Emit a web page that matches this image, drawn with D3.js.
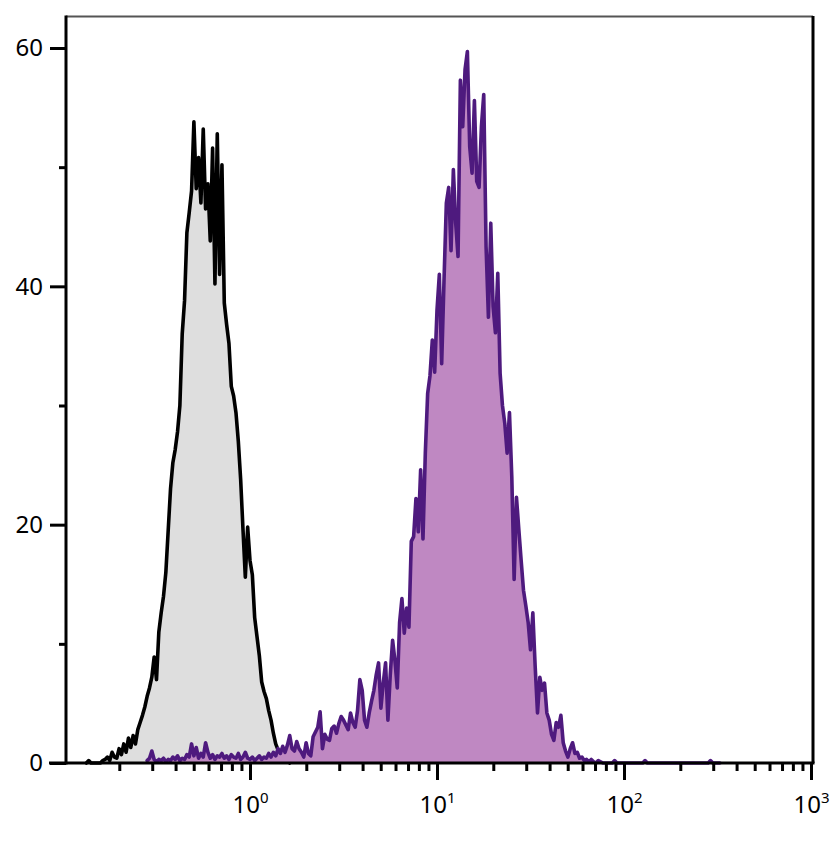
<!DOCTYPE html>
<html><head><meta charset="utf-8">
<script src="https://cdn.jsdelivr.net/npm/d3@7/dist/d3.min.js"></script>
<style>body{margin:0;background:#fff} svg{display:block}</style>
</head><body>
<svg id="c" width="834" height="852"></svg>
<script>
// ---- data ----
const yTicks = [0, 20, 40, 60];
const yMinorTicks = [10, 30, 50];
const xMajorTicks = [1, 10, 100, 1000];
const xTickExponents = ["0", "1", "2", "3"];
const binStep = 0.0125;            // log10 width of one channel
const grayStart = -0.875;          // log10 of first gray channel
const purpleStart = -0.55;         // log10 of first purple channel
const grayCounts = [
  0,0.2,0,0,0,0,0,0.2,0.3,0.5,
  0.2,0.9,0.5,0.4,1.2,0.7,1.6,0.9,2.1,1.3,
  2.3,1.6,2.8,3.4,4.0,4.7,5.6,6.3,7.2,8.9,
  7.0,11.0,12.6,14.0,16.0,19.5,23.0,25.2,26.3,27.8,
  30.0,36.0,38.8,44.5,46.2,48.0,53.8,48.2,50.8,47.0,
  53.2,46.5,48.6,43.8,51.6,40.2,52.8,41.0,50.2,38.6,
  36.8,35.2,31.6,30.8,29.4,27.0,23.8,19.6,15.6,19.8,
  17.0,15.8,12.2,10.6,9.0,6.8,6.0,5.4,4.4,3.6,
  2.5,1.6,1.1,0.8,1.2,0.5,0.3,0
];
const purpleCounts = [
  0.2,0.4,1.0,0.3,0.1,0.3,0.2,0.4,0.1,0.3,
  0.2,0.5,0.3,0.6,0.2,0.4,0.3,0.7,0.5,1.6,
  0.6,1.3,0.4,0.8,0.5,1.7,0.9,0.4,0.7,0.3,
  0.6,0.5,0.8,0.4,0.6,0.3,0.7,0.5,0.4,0.8,
  0.3,0.5,0.9,0.4,0.3,0.5,0.2,0.4,0.6,0.3,
  0.5,0.4,0.8,0.5,0.9,0.6,1.2,0.8,1.4,0.9,
  1.5,2.3,1.2,1.0,1.8,1.2,0.9,0.5,1.7,0.8,
  0.6,2.2,2.6,3.0,4.3,1.2,2.4,2.0,1.9,2.9,
  3.1,2.5,3.3,3.9,3.6,3.2,2.8,4.2,3.4,3.0,
  4.4,7.0,6.1,3.6,3.0,4.2,5.2,6.1,7.4,8.4,
  4.6,6.7,8.4,3.6,7.4,10.3,8.6,6.3,11.8,13.8,
  10.9,13.0,11.4,18.6,19.0,22.2,19.4,24.6,18.8,26.0,
  31.0,32.5,35.5,32.8,38.0,41.0,33.5,40.5,47.0,48.3,
  43.0,49.8,45.3,42.5,57.3,53.4,58.2,59.7,51.7,49.5,
  55.6,48.8,48.3,53.4,56.1,43.3,37.4,45.3,38.3,36.1,
  41.1,32.7,30.0,28.5,26.0,29.4,24.0,15.4,22.3,19.6,
  17.0,14.5,13.2,11.8,9.5,12.6,8.1,4.2,7.2,6.1,
  6.7,4.2,3.6,2.4,1.9,3.4,3.0,4.0,1.7,1.0,
  0.5,1.2,1.7,0.8,0.9,0.4,0.5,0.2,0.3,0.1,
  0.3,0.1,0,0.2,0.1,0,0,0,0,0,
  0.2,0,0,0,0,0,0,0,0,0,
  0,0,0,0.2,0,0,0,0,0,0,
  0,0,0,0,0,0,0,0,0,0,
  0,0,0,0,0,0,0,0,0,0,
  0,0.2,0,0,0,0
];

// ---- chart ----
const svg = d3.select("#c");
const pLeft = 66, pRight = 813, pTop = 16, pBottom = 763;
const x = d3.scaleLog().domain([0.1, 1000]).range([63, 811]);
const y = d3.scaleLinear().domain([0, 60]).range([763, 48]);

const toPts = (arr, start) => arr.map((v, i) => ({ x: Math.pow(10, start + i * binStep), v }));
const gray = toPts(grayCounts, grayStart);
const purple = toPts(purpleCounts, purpleStart);

const area = d3.area().x(d => x(d.x)).y0(y(0)).y1(d => y(d.v));
const line = d3.line().x(d => x(d.x)).y(d => y(d.v));

const g = svg.append("g");
g.append("path").datum(gray).attr("d", area).attr("fill", "#dedede");
g.append("path").datum(gray).attr("d", line).attr("fill", "none")
  .attr("stroke", "#000").attr("stroke-width", 3.6).attr("stroke-linejoin", "round").attr("stroke-linecap", "round");
g.append("path").datum(purple).attr("d", area).attr("fill", "#bf88c2");
g.append("path").datum(purple).attr("d", line).attr("fill", "none")
  .attr("stroke", "#4e1a7e").attr("stroke-width", 3.6).attr("stroke-linejoin", "round").attr("stroke-linecap", "round");

// frame
svg.append("line").attr("x1", pLeft).attr("x2", pRight).attr("y1", pTop + 0.5).attr("y2", pTop + 0.5)
  .attr("stroke", "#555").attr("stroke-width", 2);
svg.append("line").attr("x1", pRight).attr("x2", pRight).attr("y1", pTop).attr("y2", pBottom)
  .attr("stroke", "#000").attr("stroke-width", 3);

// y axis
const yAxis = d3.axisLeft(y).tickValues(yTicks).tickSize(16).tickPadding(7).tickFormat(d3.format("d"));
const ya = svg.append("g").attr("transform", `translate(${pLeft},0)`).call(yAxis);
ya.select(".domain").remove();
ya.selectAll(".tick line").attr("stroke", "#000").attr("stroke-width", 3);
ya.selectAll(".tick text").attr("font-family", "Noto Sans, sans-serif").attr("font-size", 24).attr("fill", "#000");
svg.append("g").attr("transform", `translate(${pLeft},0)`)
  .call(d3.axisLeft(y).tickValues(yMinorTicks).tickSize(7).tickFormat(""))
  .call(s => s.select(".domain").remove())
  .selectAll(".tick line").attr("stroke", "#000").attr("stroke-width", 3);
svg.append("line").attr("x1", pLeft).attr("x2", pLeft).attr("y1", pTop - 0.5).attr("y2", pBottom + 1.5)
  .attr("stroke", "#000").attr("stroke-width", 3);

// x axis
const minor = [];
[0.1, 1, 10, 100].forEach(d => { for (let k = 2; k <= 9; k++) minor.push(d * k); });
svg.append("g").attr("transform", `translate(0,${pBottom})`)
  .call(d3.axisBottom(x).tickValues(minor).tickSize(8).tickFormat(""))
  .call(s => s.select(".domain").remove())
  .selectAll(".tick line").attr("stroke", "#000").attr("stroke-width", 3);
const xa = svg.append("g").attr("transform", `translate(0,${pBottom})`)
  .call(d3.axisBottom(x).tickValues(xMajorTicks).tickSize(17).tickFormat(""));
xa.select(".domain").remove();
xa.selectAll(".tick line").attr("stroke", "#000").attr("stroke-width", 3);
xa.selectAll(".tick").each(function(d, i) {
  const t = d3.select(this).append("text").attr("y", 50).attr("text-anchor", "middle")
    .attr("font-family", "Noto Sans, sans-serif").attr("font-size", 24).attr("fill", "#000");
  t.append("tspan").text("10");
  t.append("tspan").attr("dy", -10).attr("font-size", 15).text(xTickExponents[i]);
});
svg.append("line").attr("x1", 49).attr("x2", pRight + 1.5).attr("y1", pBottom).attr("y2", pBottom)
  .attr("stroke", "#000").attr("stroke-width", 3);
</script>
</body></html>
